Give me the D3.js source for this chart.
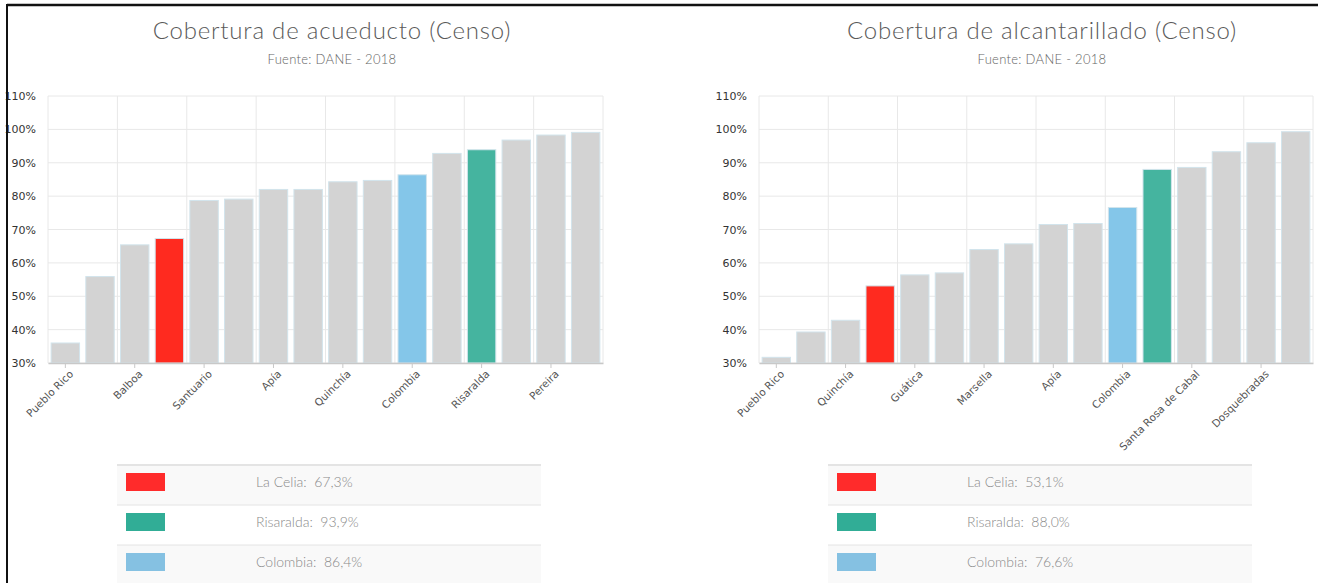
<!DOCTYPE html>
<html>
<head>
<meta charset="utf-8">
<script src="https://cdn.jsdelivr.net/npm/d3@7/dist/d3.min.js"></script>
<style>
  html, body { margin: 0; padding: 0; background: #fff; }
  svg { display: block; }
  .title { font-family: "Lato", "Open Sans", sans-serif; font-weight: 300; fill: #5a5a5a; }
  .axis text { font-family: "DejaVu Sans", Verdana, sans-serif; }
</style>
</head>
<body>
<svg id="chart" width="1318" height="583"></svg>
<script>
// Cobertura de acueducto (Censo 2018)
const acueductoCategories = [
  "Pueblo Rico", "Mistrató", "Balboa", "La Celia", "Santuario", "Guática",
  "Apía", "Belén de Umbría", "Quinchía", "Marsella", "Colombia",
  "Santa Rosa de Cabal", "Risaralda", "La Virginia", "Pereira", "Dosquebradas"
];
const acueductoValues = [
  36.0, 55.9, 65.4, 67.3, 78.7, 79.1, 82.0, 82.0,
  84.3, 84.7, 86.4, 92.8, 93.9, 96.8, 98.3, 99.1
];

// Cobertura de alcantarillado (Censo 2018)
const alcantarilladoCategories = [
  "Pueblo Rico", "Mistrató", "Quinchía", "La Celia", "Guática", "Balboa",
  "Marsella", "Santuario", "Apía", "Belén de Umbría", "Colombia",
  "Risaralda", "Santa Rosa de Cabal", "La Virginia", "Dosquebradas", "Pereira"
];
const alcantarilladoValues = [
  31.7, 39.3, 42.8, 53.1, 56.4, 57.0, 64.0, 65.7,
  71.5, 71.8, 76.6, 88.0, 88.6, 93.3, 96.0, 99.3
];

const yTicks = [30, 40, 50, 60, 70, 80, 90, 100, 110];
const legendNames = ["La Celia", "Risaralda", "Colombia"];
const barColors = { "La Celia": "#ff2a1f", "Risaralda": "#45b49f", "Colombia": "#84c6e9" };
const legendColors = { "La Celia": "#ff2b2b", "Risaralda": "#31ad96", "Colombia": "#85c1e2" };
const titles = ["Cobertura de acueducto (Censo)", "Cobertura de alcantarillado (Censo)"];
const subtitle = "Fuente: DANE - 2018";

const svg = d3.select("#chart");

const fmt = v => d3.format(".1f")(v).replace(".", ",") + "%";

function drawPanel(opts) {
  const { categories, values, title, x0, x1, titleX, legX0, legX1 } = opts;
  const yTop = 96, yBottom = 363;
  const g = svg.append("g");

  // titles
  g.append("text").attr("class", "title")
    .attr("x", titleX).attr("y", 39).attr("text-anchor", "middle")
    .style("font-size", "24px").style("letter-spacing", "0.8px").text(title);
  g.append("text").attr("class", "title")
    .attr("x", titleX).attr("y", 64).attr("text-anchor", "middle")
    .style("font-size", "13px").style("letter-spacing", "0.3px").style("fill", "#666")
    .text(subtitle);

  const x = d3.scaleBand().domain(categories).range([x0, x1])
    .paddingInner(0.18).paddingOuter(0.09);
  const y = d3.scaleLinear().domain([30, 110]).range([yBottom, yTop]);
  const step = x.step();

  // horizontal grid
  g.append("g").selectAll("line").data(yTicks).join("line")
    .attr("x1", x0).attr("x2", x1)
    .attr("y1", d => y(d)).attr("y2", d => y(d))
    .attr("stroke", "#e8e8e8").attr("stroke-width", 1);

  // vertical grid every two categories
  const gridCats = categories.filter((c, i) => i % 2 === 0);
  const gx = gridCats.map(c => x(c) - step * x.paddingInner() / 2).concat([x1]);
  g.append("g").selectAll("line").data(gx).join("line")
    .attr("x1", d => d).attr("x2", d => d)
    .attr("y1", yTop).attr("y2", yBottom)
    .attr("stroke", "#e8e8e8").attr("stroke-width", 1);

  // bars
  g.append("g").selectAll("rect").data(categories).join("rect")
    .attr("x", d => x(d))
    .attr("y", (d, i) => y(values[i]))
    .attr("width", x.bandwidth())
    .attr("height", (d, i) => yBottom - y(values[i]))
    .attr("fill", d => barColors[d] || "#d3d3d3")
    .attr("stroke", "#d2e4ec").attr("stroke-width", 1);

  // y axis labels
  const yAxis = g.append("g").attr("class", "axis")
    .attr("transform", `translate(${x0},0)`)
    .call(d3.axisLeft(y).tickValues(yTicks).tickSize(0).tickPadding(12)
      .tickFormat(d => d + "%"));
  yAxis.select(".domain").remove();
  yAxis.selectAll("text").style("font-size", "11px").style("fill", "#333");

  // x axis
  const xAxis = g.append("g").attr("class", "axis")
    .attr("transform", `translate(0,${yBottom})`)
    .call(d3.axisBottom(x).tickValues(gridCats).tickSize(5).tickSizeOuter(0));
  xAxis.select(".domain").attr("stroke", "#c8c8c8").attr("stroke-width", 1.5);
  xAxis.selectAll(".tick line").attr("stroke", "#c8c8c8");
  xAxis.selectAll("text")
    .style("font-size", "10.5px").style("fill", "#555")
    .attr("text-anchor", "end")
    .attr("dx", "-0.2em").attr("dy", "0.6em")
    .attr("transform", "rotate(-45)");

  // legend table
  const rowH = 40, legTop = 465;
  const lg = g.append("g");
  legendNames.forEach((name, i) => {
    const ry = legTop + i * rowH;
    lg.append("rect").attr("x", legX0).attr("y", ry)
      .attr("width", legX1 - legX0).attr("height", rowH)
      .attr("fill", i % 2 === 0 ? "#f9f9f9" : "#ffffff");
    lg.append("line").attr("x1", legX0).attr("x2", legX1)
      .attr("y1", ry).attr("y2", ry)
      .attr("stroke", "#e4e4e4").attr("stroke-width", i === 0 ? 2 : 1);
    lg.append("rect").attr("x", legX0 + 9).attr("y", ry + 8)
      .attr("width", 39).attr("height", 18)
      .attr("fill", legendColors[name]);
    const v = values[categories.indexOf(name)];
    lg.append("text").attr("class", "title")
      .attr("x", legX0 + 139).attr("y", ry + 22)
      .style("font-size", "14px").style("fill", "#8a8a8a")
      .attr("xml:space", "preserve")
      .text(name + ":  " + fmt(v));
  });
}

drawPanel({
  categories: acueductoCategories, values: acueductoValues, title: titles[0],
  x0: 48, x1: 603, titleX: 332, legX0: 117, legX1: 541
});
drawPanel({
  categories: alcantarilladoCategories, values: alcantarilladoValues, title: titles[1],
  x0: 759, x1: 1313, titleX: 1042, legX0: 828, legX1: 1252
});

// page frame
svg.append("line").attr("x1", 7).attr("x2", 1318).attr("y1", 5).attr("y2", 5)
  .attr("stroke", "#111").attr("stroke-width", 2.5);
svg.append("line").attr("x1", 7).attr("x2", 7).attr("y1", 4).attr("y2", 583)
  .attr("stroke", "#111").attr("stroke-width", 2);
</script>
</body>
</html>
